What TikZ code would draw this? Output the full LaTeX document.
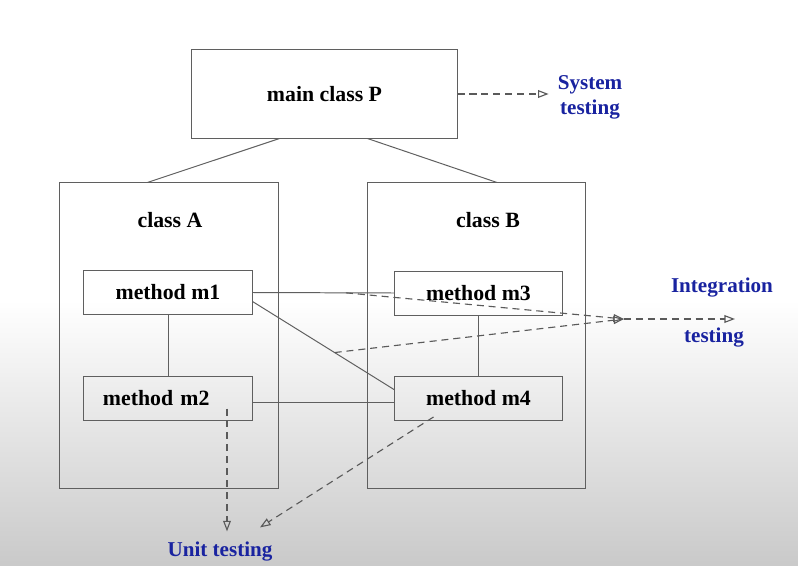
\documentclass[tikz,border=0pt]{standalone}
\usepackage{fontspec}
\setmainfont{Liberation Serif}
\usepackage{xcolor}
\usetikzlibrary{positioning, arrows.meta, calc}
\definecolor{BoxGray}{RGB}{95,95,95}
\definecolor{DashGray}{RGB}{90,90,90}
\definecolor{TestBlue}{RGB}{25,35,160}

\begin{document}
\begin{tikzpicture}[x=0.025cm, y=-0.025cm,
          box/.style={rectangle, draw=BoxGray, line width=0.7pt, inner sep=0pt,
                      font=\fontsize{15.5}{17}\selectfont\bfseries},
          meth/.style={box, minimum width=4.2cm, minimum height=1.1cm},
          cls/.style={box, minimum width=5.45cm, minimum height=7.625cm},
          lbl/.style={font=\fontsize{15.5}{17}\selectfont\bfseries},
          tst/.style={font=\fontsize{15}{18}\selectfont\bfseries, text=TestBlue, align=center},
          link/.style={draw=BoxGray, line width=0.7pt},
          arr/.style={draw=DashGray, line width=0.8pt, dash pattern=on 5pt off 3.5pt,
                      -{Triangle[open, length=7.5pt, width=5.5pt]}}
        ]
        % background
        \useasboundingbox (0,0) rectangle (798,566);
        \fill[white] (0,0) rectangle (798,566);
        \shade[top color=white, bottom color=gray!42] (0,300) rectangle (798,566);

        % Main class
        \node[box, minimum width=6.625cm, minimum height=2.2cm]
              (P) at (324.5,94) {main class P};
        \node[tst] (sys) at (590,97) {System\\testing};
        \draw[arr, shorten >=3pt] (P.east) -- (P.east -| sys.west);

        % Classes
        \node[cls] (clsA) at (169,335.5) {};
        \node[cls] (clsB) at (476.5,335.5) {};
        \node[lbl] (lblA) at (170,220) {class A};
        \node[lbl] (lblB) at (488,220) {class B};

        \draw[link] ($(P.south west)+(88,0)$) -- ($(clsA.north west)+(88,0)$);
        \draw[link] ($(P.south west)+(176,0)$) -- ($(clsB.north west)+(130,0)$);

        % Methods
        \node[meth] (m1) at (168,292.5) {method m1};
        \node[meth, inner xsep=0.475cm, text width=3.25cm, align=left]
              (m2) at (168,398.5) {method m2};
        \node[meth] (m3) at (478.5,293) {method m3};
        \node[meth] (m4) at (478.5,398.5) {method m4};

        \draw[link] (m1) -- (m2);
        \draw[link] (m3) -- (m4);
        \draw[link] (m1.east) -- (m3.west);
        \draw[link] ($(m1.east)+(0,9)$) -- ($(m4.west)+(0,-9)$);
        \draw[link] ($(m2.east)+(0,4)$) -- ($(m4.west)+(0,4)$);

        % Integration testing
        \coordinate (hub) at (624,319);
        \coordinate (intEnd) at (735,319);
        \node[tst] (intA) at (722,288) {Integration};
        \node[tst] (intB) at (714,338) {testing};
        \draw[arr] ($(m1.east)!0.66!(m3.west)$) -- (hub);
        \draw[arr] ($($(m1.east)+(0,9)$)!0.58!($(m4.west)+(0,-9)$)$) -- (hub);
        \draw[arr] (hub) -- (intEnd);

        % Unit testing
        \node[tst] (unit) at (220,552) {Unit testing};
        \draw[arr] ($(m2.center)+(59,10)$) -- ($(unit.north)+(7,-6)$);
        \draw[arr] ($(m4.south)+(-45,-4)$) -- ($(unit.north)+(40,-10)$);
      \end{tikzpicture}
\end{document}
